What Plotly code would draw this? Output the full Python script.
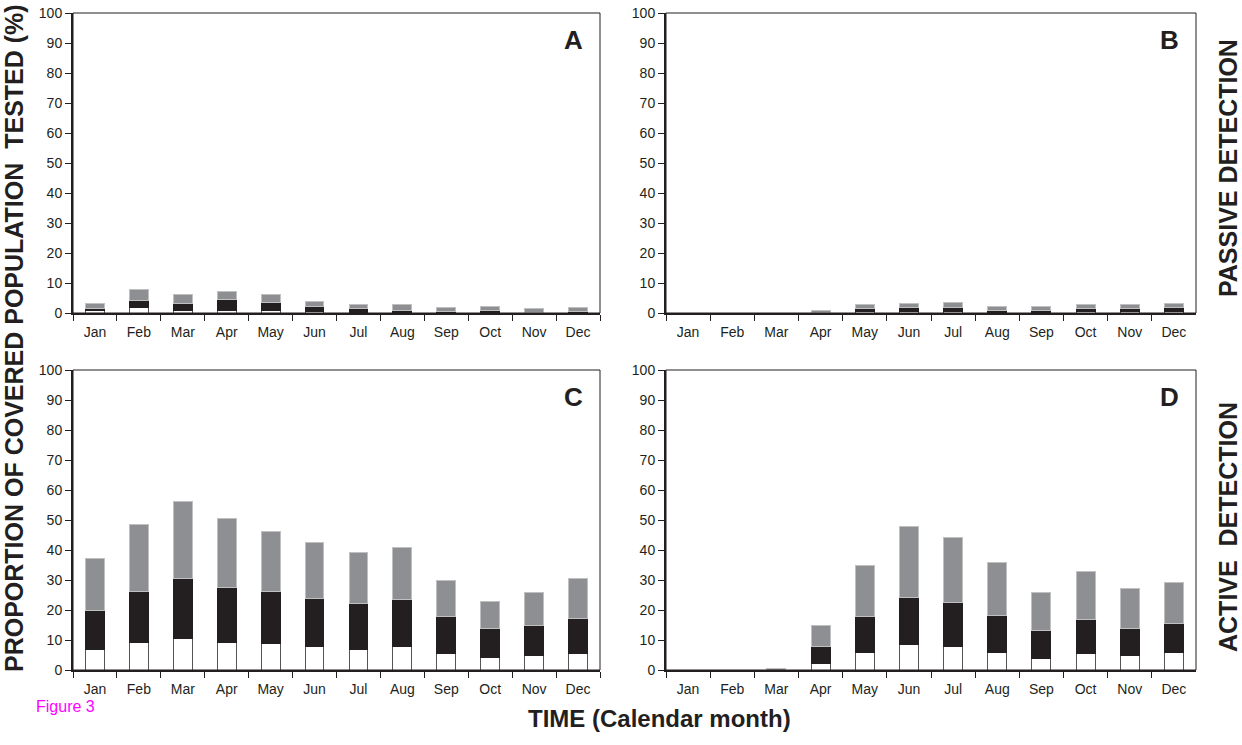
import plotly.graph_objects as go

months = ["Jan", "Feb", "Mar", "Apr", "May", "Jun", "Jul", "Aug", "Sep", "Oct", "Nov", "Dec"]

# cumulative tops: white, white+black, total
a_white = [0.7, 1.9, 0.9, 0.9, 0.9, 0.6, 0.2, 0.2, 0.1, 0.2, 0.0, 0.1]
a_black_top = [1.6, 4.3, 3.2, 4.4, 3.6, 2.2, 1.4, 1.0, 0.6, 1.0, 0.1, 0.6]
a_total = [3.1, 8.0, 6.1, 7.2, 6.1, 3.9, 2.7, 2.7, 1.8, 2.2, 1.4, 1.8]

b_white = [0, 0, 0, 0.0, 0.4, 0.4, 0.4, 0.1, 0.1, 0.4, 0.4, 0.4]
b_black_top = [0, 0, 0, 0.1, 1.4, 1.8, 1.8, 1.0, 1.0, 1.4, 1.4, 1.8]
b_total = [0, 0, 0, 1.0, 2.7, 3.1, 3.4, 2.2, 2.2, 2.7, 2.7, 3.1]

c_white = [6.7, 9.2, 10.4, 9.2, 8.9, 7.7, 6.7, 7.7, 5.4, 4.3, 4.7, 5.4]
c_black_top = [19.7, 26.3, 30.6, 27.6, 26.3, 23.9, 22.2, 23.4, 17.7, 13.9, 14.7, 17.2]
c_total = [37.1, 48.4, 56.3, 50.4, 46.3, 42.6, 39.3, 40.9, 30.0, 23.0, 25.9, 30.4]

d_white = [0, 0, 0, 2.2, 5.9, 8.4, 7.7, 5.9, 3.8, 5.4, 4.7, 5.9]
d_black_top = [0, 0, 0, 7.7, 17.7, 24.2, 22.6, 18.3, 13.3, 16.8, 13.9, 15.6]
d_total = [0, 0, 0.5, 15.0, 35.0, 48.0, 44.2, 35.9, 25.9, 33.0, 27.1, 29.3]

panels = [
    ("A", a_white, a_black_top, a_total, "x", "y"),
    ("B", b_white, b_black_top, b_total, "x2", "y2"),
    ("C", c_white, c_black_top, c_total, "x3", "y3"),
    ("D", d_white, d_black_top, d_total, "x4", "y4"),
]

W, H = 1242, 745
xdoms = [[73 / W, 600 / W], [666 / W, 1196 / W]]
ydoms = [[1 - 313 / H, 1 - 13 / H], [1 - 670 / H, 1 - 370 / H]]

fig = go.Figure()
for i, (name, w, bt, tot, xa, ya) in enumerate(panels):
    blk = [max(b - a, 0) for a, b in zip(w, bt)]
    gry = [max(t - b, 0) for b, t in zip(bt, tot)]
    fig.add_trace(go.Bar(x=months, y=w, xaxis=xa, yaxis=ya, marker=dict(color="white", line=dict(color="#555555", width=1)), width=0.43, showlegend=False))
    fig.add_trace(go.Bar(x=months, y=blk, xaxis=xa, yaxis=ya, marker=dict(color="#231f20", line=dict(color="#231f20", width=1)), width=0.43, showlegend=False))
    fig.add_trace(go.Bar(x=months, y=gry, xaxis=xa, yaxis=ya, marker=dict(color="#8e8f93", line=dict(color="#c0c0c0", width=1)), width=0.43, showlegend=False))

layout = dict(
    width=W, height=H, barmode="stack", bargap=0.57, showlegend=False,
    margin=dict(l=0, r=0, t=0, b=0, pad=0, autoexpand=False),
    paper_bgcolor="white", plot_bgcolor="white",
    font=dict(family="Liberation Sans, Arial, sans-serif", size=14, color="#231f20"),
)
shapes = []
annotations = []
for i in range(4):
    sfx = "" if i == 0 else str(i + 1)
    xd = xdoms[i % 2]
    yd = ydoms[i // 2]
    layout["xaxis" + sfx] = dict(
        domain=xd, anchor="y" + sfx, showgrid=False, showline=True, linewidth=2, linecolor="#231f20",
        ticks="outside", tickson="boundaries", ticklen=6, tickwidth=1, tickcolor="#231f20",
        tickfont=dict(size=14), range=[-0.5, 11.5], fixedrange=True, automargin=False,
        ticklabelstandoff=5,
    )
    layout["yaxis" + sfx] = dict(
        domain=yd, anchor="x" + sfx, showgrid=False, showline=True, linewidth=2, linecolor="#231f20",
        ticks="outside", ticklen=6, tickwidth=1, tickcolor="#231f20", range=[0, 100],
        tickvals=list(range(0, 101, 10)), tickfont=dict(size=14), zeroline=False, fixedrange=True,
        automargin=False,
    )
    shapes.append(dict(type="rect", xref="paper", yref="paper", x0=xd[0], x1=xd[1], y0=yd[0], y1=yd[1], line=dict(color="#231f20", width=1), layer="above"))
    annotations.append(dict(text="<b>" + panels[i][0] + "</b>", xref="paper", yref="paper", x=xd[1] - 15 / W, y=yd[1] - 27 / H, xanchor="right", yanchor="middle", showarrow=False, font=dict(size=26, color="#231f20")))

annotations += [
    dict(text="<b>PROPORTION OF COVERED POPULATION  TESTED (%)</b>", xref="paper", yref="paper", x=14 / W, y=1 - 338 / H, textangle=-90, showarrow=False, xanchor="center", yanchor="middle", font=dict(size=25, color="#231f20")),
    dict(text="<b>TIME (Calendar month)</b>", xref="paper", yref="paper", x=659 / W, y=1 - 718 / H, showarrow=False, xanchor="center", yanchor="middle", font=dict(size=24, color="#231f20")),
    dict(text="Figure 3", xref="paper", yref="paper", x=34 / W, y=1 - 706 / H, showarrow=False, xanchor="left", yanchor="middle", font=dict(size=16, color="#ff00ff")),
    dict(text="<b>PASSIVE DETECTION</b>", xref="paper", yref="paper", x=1228 / W, y=1 - 168 / H, textangle=-90, showarrow=False, xanchor="center", yanchor="middle", font=dict(size=25, color="#231f20")),
    dict(text="<b>ACTIVE  DETECTION</b>", xref="paper", yref="paper", x=1228 / W, y=1 - 527 / H, textangle=-90, showarrow=False, xanchor="center", yanchor="middle", font=dict(size=25, color="#231f20")),
]
layout["shapes"] = shapes
layout["annotations"] = annotations
fig.update_layout(**layout)
fig.write_html("out.html")
